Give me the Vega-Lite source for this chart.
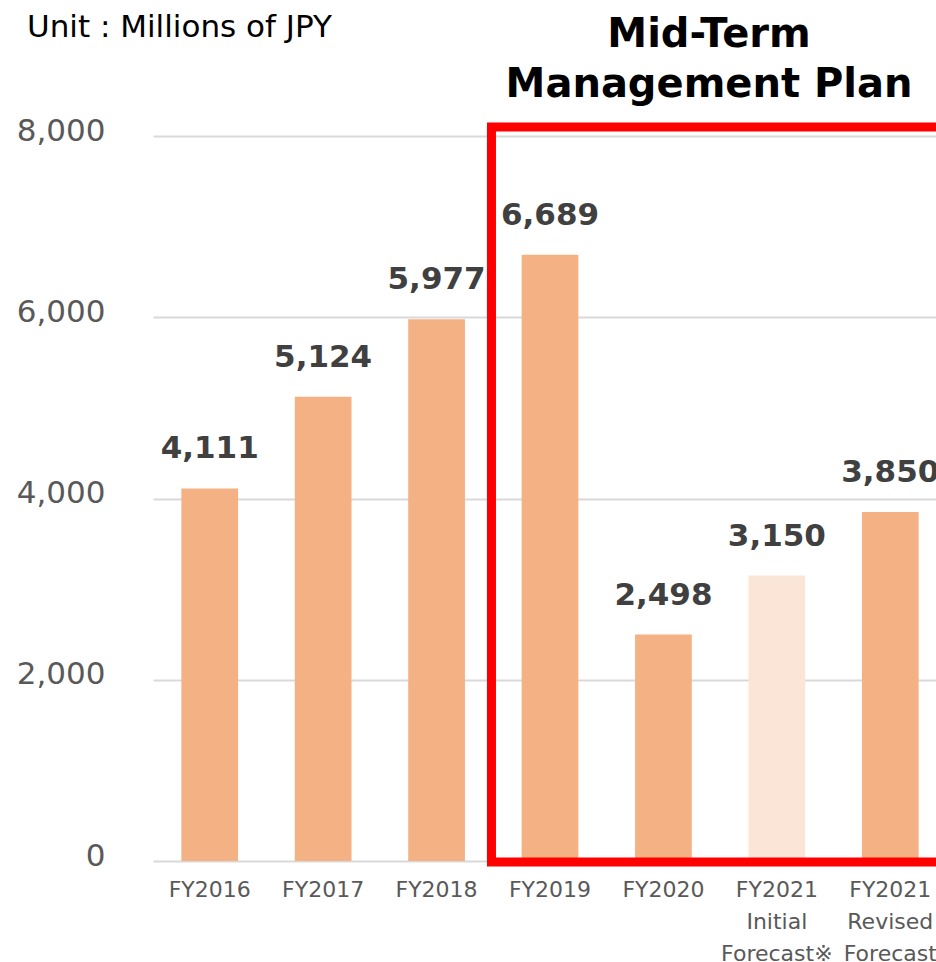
{
  "$schema": "https://vega.github.io/schema/vega-lite/v6.json",
  "width": 794,
  "height": 725,
  "autosize": {"type": "none"},
  "padding": {"left": 153, "top": 136, "right": 0, "bottom": 101},
  "background": "white",
  "config": {"font": "DejaVu Sans", "view": {"stroke": null}},
  "datasets": {
    "sales": [
      {"fy": "FY2016", "value": 4111, "kind": "Actual"},
      {"fy": "FY2017", "value": 5124, "kind": "Actual"},
      {"fy": "FY2018", "value": 5977, "kind": "Actual"},
      {"fy": "FY2019", "value": 6689, "kind": "Actual"},
      {"fy": "FY2020", "value": 2498, "kind": "Actual"},
      {"fy": "FY2021|Initial|Forecast※", "value": 3150, "kind": "Initial"},
      {"fy": "FY2021|Revised|Forecast", "value": 3850, "kind": "Actual"}
    ],
    "one": [{}]
  },
  "layer": [
    {
      "data": {"name": "sales"},
      "encoding": {
        "x": {
          "field": "fy",
          "type": "nominal",
          "sort": null,
          "scale": {"paddingInner": 0.5, "paddingOuter": 0.25},
          "axis": {
            "title": null,
            "domain": false,
            "ticks": false,
            "tickSize": 0,
            "grid": false,
            "labelAngle": 0,
            "labelFontSize": 22,
            "labelColor": "#595959",
            "labelPadding": 18,
            "labelLineHeight": 32,
            "labelOverlap": false,
            "labelExpr": "split(datum.label, '|')"
          }
        },
        "y": {
          "field": "value",
          "type": "quantitative",
          "scale": {"domain": [0, 8000], "nice": false},
          "axis": {
            "title": null,
            "values": [0, 2000, 4000, 6000, 8000],
            "format": ",.0f",
            "domain": false,
            "ticks": false,
            "tickSize": 0,
            "labelFontSize": 31,
            "labelColor": "#595959",
            "labelPadding": 48,
            "labelOffset": -5,
            "gridColor": "#d9d9d9",
            "gridWidth": 2
          }
        }
      },
      "layer": [
        {
          "mark": {"type": "bar"},
          "encoding": {
            "color": {
              "field": "kind",
              "type": "nominal",
              "scale": {"domain": ["Actual", "Initial"], "range": ["#F4B183", "#FBE5D6"]},
              "legend": null
            }
          }
        },
        {
          "mark": {"type": "text", "fontSize": 31, "fontWeight": "bold", "color": "#404040", "baseline": "alphabetic", "dy": -30},
          "encoding": {
            "text": {"field": "value", "type": "quantitative", "format": ","}
          }
        }
      ]
    },
    {
      "data": {"name": "one"},
      "layer": [
        {
          "mark": {"type": "rect", "filled": false, "stroke": "#FF0000", "strokeWidth": 9},
          "encoding": {
            "x": {"datum": 2.984, "type": "quantitative", "scale": {"domain": [0, 7], "nice": false, "zero": false}, "axis": null},
            "x2": {"datum": 7.3},
            "y": {"datum": 8100, "type": "quantitative", "scale": {"domain": [0, 8000], "nice": false, "zero": false}, "axis": null},
            "y2": {"datum": -11}
          }
        },
        {
          "mark": {"type": "text", "text": ["Mid-Term", "Management Plan"], "fontSize": 40, "fontWeight": "bold", "color": "#000000", "align": "center", "baseline": "alphabetic", "lineHeight": 50},
          "encoding": {
            "x": {"datum": 4.902, "type": "quantitative", "scale": {"domain": [0, 7], "nice": false, "zero": false}, "axis": null},
            "y": {"datum": 8982, "type": "quantitative", "scale": {"domain": [0, 8000], "nice": false, "zero": false}, "axis": null}
          }
        },
        {
          "mark": {"type": "text", "text": "Unit : Millions of JPY", "fontSize": 31, "color": "#000000", "align": "left", "baseline": "alphabetic"},
          "encoding": {
            "x": {"datum": -1.111, "type": "quantitative", "scale": {"domain": [0, 7], "nice": false, "zero": false}, "axis": null},
            "y": {"datum": 9092, "type": "quantitative", "scale": {"domain": [0, 8000], "nice": false, "zero": false}, "axis": null}
          }
        }
      ]
    }
  ],
  "resolve": {"scale": {"x": "independent", "y": "independent"}}
}
